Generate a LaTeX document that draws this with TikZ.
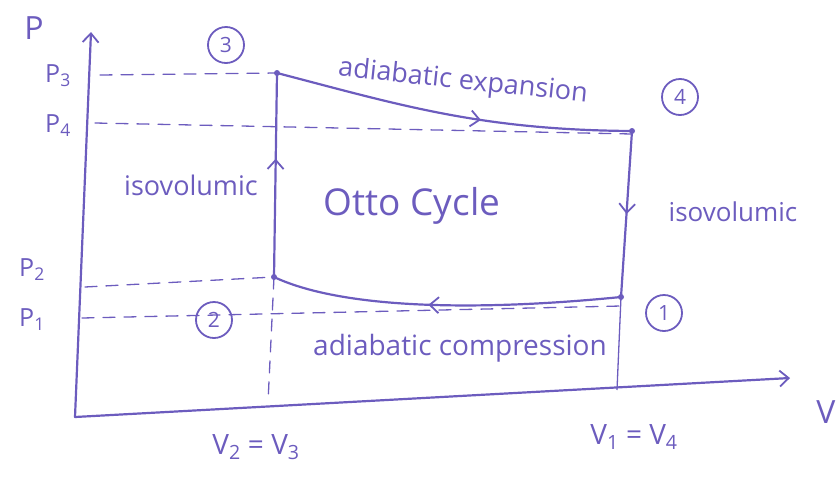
\documentclass[tikz,border=0pt]{standalone}
\usepackage{fontspec}
\setmainfont{Open Sans}
\usetikzlibrary{arrows.meta,decorations.markings}
\definecolor{ink}{RGB}{108,92,190}
\tikzset{
  ink/.style={draw=ink, line width=2.2pt, line cap=round, line join=round},
  guide/.style={draw=ink, line width=1.3pt, dash pattern=on 12pt off 9pt, line cap=round},
  thinline/.style={draw=ink, line width=1.3pt},
  tip/.style={-{Straight Barb[length=9pt,width=16pt,line width=1.8pt]}},
  midarrow/.style={postaction={decorate}, decoration={markings,
      mark=at position #1 with {\arrow{Straight Barb[length=9pt,width=16pt,line width=1.8pt]}}}},
  lbl/.style={text=ink, inner sep=0pt},
  circnum/.style={draw=ink, line width=1.8pt, circle, minimum size=36pt, inner sep=0pt, text=ink, font=\fontsize{21}{23}\selectfont},
  dot/.style={circle, fill=ink, minimum size=6pt, inner sep=0pt}
}
\begin{document}
\begin{tikzpicture}[x=1pt,y=-1pt]
\useasboundingbox (0,0) rectangle (838,480);
% axes
\coordinate (O) at (75,417);
\coordinate (Ytip) at (91,32);
\coordinate (Xtip) at (790,378);
\draw[ink, tip] (O) -- (Ytip);
\draw[ink, tip] (O) -- (Xtip);
% state points
\node[dot] (n3) at (277,73) {};
\node[dot] (n4) at (632,131) {};
\node[dot] (n2) at (274,277) {};
\node[dot] (n1) at (621,297) {};
% guide coordinates
\coordinate (p3a) at (100,75);
\coordinate (p4a) at (95,123);
\coordinate (p4b) at (632,134);
\coordinate (p2a) at (85,287);
\coordinate (p1a) at (82,318);
\coordinate (p1b) at (621,306);
\coordinate (v2b) at (268,402);
\coordinate (v1b) at (617,390);
% dashed guides
\draw[guide] (p3a) -- (n3.center);
\draw[guide] (p4a) -- (p4b);
\draw[guide] (p2a) -- (n2.center);
\draw[guide] (p1a) -- (p1b);
\draw[guide] (n2.center) -- (v2b);
\draw[thinline] (n1.center) -- (v1b);
% cycle
\draw[ink, midarrow=0.58] (n3.center) .. controls (400,105) and (480,130) .. (n4.center);
\draw[ink, midarrow=0.5] (n4.center) -- (n1.center);
\draw[ink, midarrow=0.55] (n1.center) .. controls (470,312) and (340,308) .. (n2.center);
\draw[ink, midarrow=0.58] (n2.center) -- (n3.center);
% labels
\node[lbl, font=\fontsize{32}{34}\selectfont] (Plab) at (34,28) {P};
\node[lbl, font=\fontsize{32}{34}\selectfont] (Vlab) at (826,412) {V};
\node[lbl, font=\fontsize{25}{27}\selectfont] (P3) at (58,76) {P\textsubscript{3}};
\node[lbl, font=\fontsize{25}{27}\selectfont] (P4) at (58,126) {P\textsubscript{4}};
\node[lbl, font=\fontsize{25}{27}\selectfont] (P2) at (32,270) {P\textsubscript{2}};
\node[lbl, font=\fontsize{25}{27}\selectfont] (P1) at (32,320) {P\textsubscript{1}};
\node[circnum] (c3) at (226,45) {3};
\node[circnum] (c4) at (680,97) {4};
\node[circnum] (c2) at (214,320) {2};
\node[circnum] (c1) at (664,313) {1};
\node[lbl, font=\fontsize{27}{29}\selectfont, rotate=-6] (ae) at (463,82) {adiabatic expansion};
\node[lbl, font=\fontsize{27}{29}\selectfont] (isoL) at (191,185) {isovolumic};
\node[lbl, font=\fontsize{26}{28}\selectfont] (isoR) at (733,212) {isovolumic};
\node[lbl, font=\fontsize{37}{39}\selectfont] (otto) at (412,206) {Otto Cycle};
\node[lbl, font=\fontsize{28}{30}\selectfont] (ac) at (460,348) {adiabatic compression};
\node[lbl, font=\fontsize{28}{30}\selectfont] (v23) at (256,447) {V\textsubscript{2} = V\textsubscript{3}};
\node[lbl, font=\fontsize{28}{30}\selectfont] (v14) at (634,437) {V\textsubscript{1} = V\textsubscript{4}};
\end{tikzpicture}
\end{document}
